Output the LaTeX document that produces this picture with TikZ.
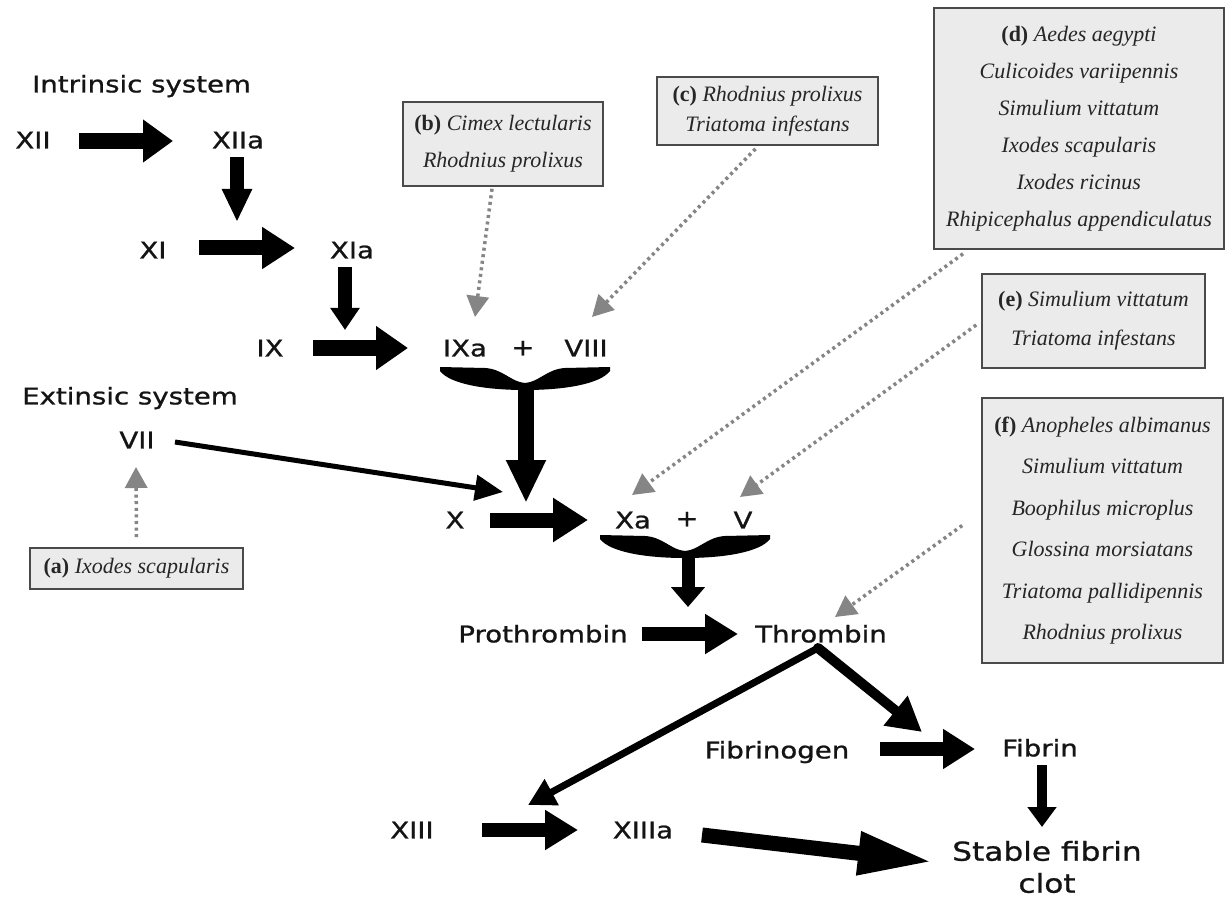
\documentclass[tikz,border=0pt]{standalone}
\usepackage{fontspec}
\newfontfamily\labfont[FakeStretch=1.2,FakeBold=1]{DejaVu Sans}
\newfontfamily\spfont{Liberation Serif}
\usetikzlibrary{arrows.meta,calc}
\definecolor{boxfill}{HTML}{EBEBEB}
\definecolor{boxline}{HTML}{4A4A4A}
\definecolor{dotgray}{HTML}{858585}
\newcommand\lbl[1]{{\upshape\bfseries #1}}
\tikzset{
  lab/.style={font=\labfont\fontsize{23}{27}\selectfont, inner sep=0pt, text height=16.8pt, text depth=0pt, text=black!92},
  spbox/.style={draw=boxline, fill=boxfill, line width=1.6pt, inner sep=0pt, align=center, text=black!85,
     font=\spfont\itshape\fontsize{22}{37}\selectfont},
  fat/.style n args={3}{line width=#1, -{Triangle[length=#2,width=#3]}},
  dotarr/.style={draw=dotgray, line width=3.5pt, dash pattern=on 3pt off 3.6pt,
     -{Triangle[length=21pt,width=22pt,fill=dotgray]}},
  brace/.pic={\fill (-85,0) -- (-40,1) .. controls (-22,2) and (-14,15) .. (0,16)
     .. controls (14,15) and (22,2) .. (40,1) -- (85,0) -- (85,4)
     .. controls (75,17) and (40,23) .. (0,23) .. controls (-40,23) and (-75,17) .. (-85,4) -- cycle;}
}
\begin{document}
\begin{tikzpicture}[x=1pt,y=-1pt]
\useasboundingbox[fill=white] (0,0) rectangle (1232,901);
% labels
\node[lab, anchor=west] (intr) at (32,84) {Intrinsic system};
\node[lab] (XII) at (33,140) {XII};
\node[lab] (XIIa) at (238,140) {XIIa};
\node[lab] (XI) at (153,250) {XI};
\node[lab] (XIa) at (352,250) {XIa};
\node[lab] (IX) at (270,348) {IX};
\node[lab] (IXa) at (465,348) {IXa};
\node[lab] (plus1) at (523,347) {+};
\node[lab] (VIII) at (586,348) {VIII};
\node[lab, anchor=west] (extr) at (22,396) {Extinsic system};
\node[lab] (VII) at (137,440) {VII};
\node[lab] (X) at (455,520) {X};
\node[lab] (Xa) at (633,520) {Xa};
\node[lab] (plus2) at (687,518) {+};
\node[lab] (V) at (743,520) {V};
\node[lab] (pro) at (543,634) {Prothrombin};
\node[lab] (thr) at (821,634) {Thrombin};
\node[lab] (fgn) at (777,750) {Fibrinogen};
\node[lab] (fbn) at (1040,748) {Fibrin};
\node[lab] (XIII) at (412,830) {XIII};
\node[lab] (XIIIa) at (643,830) {XIIIa};
\node[font=\labfont\fontsize{26}{32}\selectfont, align=center, inner sep=0pt, text=black!92] (clot) at (1047,867) {Stable fibrin\\clot};
% boxes
\node[spbox, minimum width=213pt, minimum height=41pt] (ba) at (136.5,568.5) {\lbl{(a)} Ixodes scapularis};
\node[spbox, minimum width=200pt, minimum height=84pt] (bb) at (503,144) {\lbl{(b)} Cimex lectularis\\Rhodnius prolixus};
\node[spbox, font=\spfont\itshape\fontsize{22}{30}\selectfont, minimum width=221pt, minimum height=68pt] (bc) at (767.5,111) {\lbl{(c)} Rhodnius prolixus\\Triatoma infestans};
\node[spbox, minimum width=290pt, minimum height=241pt] (bd) at (1079,128.5) {\lbl{(d)} Aedes aegypti\\Culicoides variipennis\\Simulium vittatum\\Ixodes scapularis\\Ixodes ricinus\\Rhipicephalus appendiculatus};
\node[spbox, font=\spfont\itshape\fontsize{22}{39}\selectfont, minimum width=223pt, minimum height=94pt] (be) at (1093.5,321) {\lbl{(e)} Simulium vittatum\\Triatoma infestans};
\node[spbox, font=\spfont\itshape\fontsize{22}{41.4}\selectfont, minimum width=241pt, minimum height=265pt] (bf) at (1102.5,530.5) {\lbl{(f)} Anopheles albimanus\\Simulium vittatum\\Boophilus microplus\\Glossina morsiatans\\Triatoma pallidipennis\\Rhodnius prolixus};
% intrinsic cascade
\draw[fat={16pt}{30pt}{41pt}] ($(XII)+(46,1)$) -- ($(XIIa)+(-65,1)$);
\draw[fat={14pt}{33pt}{28pt}] ($(XIIa)+(-1,17)$) -- ($(XI)+(84,-28)$);
\draw[fat={15pt}{33pt}{40pt}] ($(XI)+(46,-2)$) -- ($(XIa)+(-57,-2)$);
\draw[fat={14pt}{22pt}{28pt}] ($(XIa)+(-7,17)$) -- ($(IX)+(75,-18)$);
\draw[fat={16pt}{32pt}{42pt}] ($(IX)+(43,0)$) -- ($(IXa)+(-57,0)$);
\pic at ($(plus1)+(2,20)$) {brace};
\coordinate (br1) at ($(plus1)+(3,36)$);
\draw[fat={16pt}{43pt}{37pt}] (br1) -- ($(X)+(71,-17)$);
% extrinsic
\draw[line width=5pt, -{Triangle[length=28pt,width=25pt]}] ($(VII)+(38,2)$) -- ($(X)+(48,-28)$);
% common pathway
\draw[fat={15pt}{35pt}{42pt}] ($(X)+(35,0)$) -- ($(Xa)+(-45,0)$);
\pic at ($(plus2)+(-2,17)$) {brace};
\coordinate (br2) at ($(plus2)+(1,34)$);
\draw[fat={13pt}{20pt}{33pt}] (br2) -- ($(pro)+(145,-27)$);
\draw[fat={14pt}{33pt}{38pt}] ($(pro)+(99,0)$) -- ($(thr)+(-83,0)$);
\coordinate (apex) at ($(thr)+(-3,14)$);
\draw[line width=7pt, line cap=round, -{Triangle[length=27pt,width=28pt]}] (apex) -- ($(XIII)+(116,-25)$);
\draw[line width=10pt, line cap=round, -{Triangle[length=34pt,width=36pt]}] (apex) -- ($(fbn)+(-118,-16)$);
\draw[fat={14pt}{32pt}{38pt}] ($(fgn)+(103,-1)$) -- ($(fbn)+(-65,1)$);
\draw[fat={10pt}{20pt}{28pt}] ($(fbn)+(2,17)$) -- ($(clot)+(-5,-40)$);
\draw[fat={14pt}{33pt}{38pt}] ($(XIII)+(70,0)$) -- ($(XIIIa)+(-65,0)$);
\draw[fat={15pt}{75pt}{40pt}] ($(XIIIa)+(59,5)$) -- ($(clot)+(-114,-5)$);
% inhibitor pointers
\draw[dotarr] ($(ba.north)+(0,-10)$) -- ($(VII)+(-1,27)$);
\draw[dotarr] ($(bb.south)+(-11,2)$) -- ($(IXa)+(10,-31)$);
\draw[dotarr] ($(bc.south)+(-12,3)$) -- ($(VIII)+(6,-31)$);
\draw[dotarr] ($(bd.south)+(-116,4)$) -- ($(Xa)+(-1,-25)$);
\draw[dotarr] ($(be.west)+(-5,4)$) -- ($(V)+(-3,-23)$);
\draw[dotarr] ($(bf.west)+(-19,-5)$) -- ($(thr)+(14,-17)$);
\end{tikzpicture}
\end{document}
